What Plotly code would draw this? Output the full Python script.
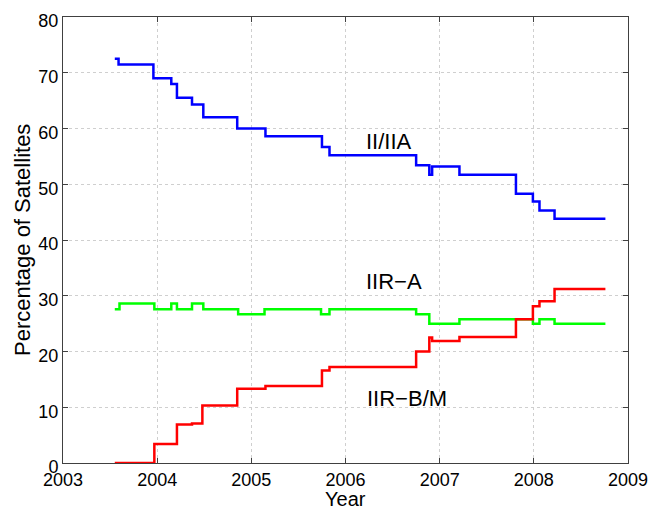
import plotly.graph_objects as go

# Constellation share by satellite block (step series, year vs percent)
years_ii = [2003.55, 2003.59, 2003.96, 2004.15, 2004.21, 2004.37, 2004.49, 2004.85,
            2005.15, 2005.75, 2005.83, 2006.75, 2006.89, 2006.92, 2007.21, 2007.81,
            2007.99, 2008.06, 2008.22, 2008.76]
pct_ii = [72.5, 71.5, 69.0, 68.0, 65.5, 64.3, 62.0, 60.0, 58.6, 56.7, 55.2, 53.4,
          51.7, 53.2, 51.7, 48.3, 46.9, 45.3, 43.8, 43.8]

years_iira = [2003.55, 2003.60, 2003.97, 2004.15, 2004.21, 2004.37, 2004.49, 2004.86,
              2005.14, 2005.74, 2005.83, 2006.75, 2006.89, 2007.21, 2007.99, 2008.06,
              2008.22, 2008.76]
pct_iira = [27.6, 28.6, 27.6, 28.6, 27.6, 28.6, 27.6, 26.7, 27.6, 26.7, 27.6, 26.7,
            25.0, 25.8, 25.0, 25.8, 25.0, 25.0]

years_iirb = [2003.55, 2003.97, 2004.21, 2004.37, 2004.48, 2004.85, 2005.15, 2005.75,
              2005.83, 2006.75, 2006.89, 2006.92, 2007.21, 2007.81, 2007.99, 2008.06,
              2008.22, 2008.76]
pct_iirb = [0.0, 3.4, 6.9, 7.1, 10.3, 13.3, 13.8, 16.6, 17.2, 20.0, 22.5, 21.9, 22.6,
            25.8, 28.1, 29.0, 31.2, 31.2]

x_ticks = [2003, 2004, 2005, 2006, 2007, 2008, 2009]
y_ticks = [0, 10, 20, 30, 40, 50, 60, 70, 80]

# Series labels placed inside the axes
label_text = ["II/IIA", "IIR\u2212A", "IIR\u2212B/M"]
label_x = [2006.46, 2006.52, 2006.65]
label_y = [57.7, 32.6, 11.5]

FONT = "Liberation Sans, Arial, sans-serif"

series = [
    (years_ii, pct_ii, "#0000ff"),
    (years_iira, pct_iira, "#00ff00"),
    (years_iirb, pct_iirb, "#ff0000"),
]

fig = go.Figure()
for xs, ys, color in series:
    fig.add_trace(go.Scatter(
        x=xs, y=ys, mode="lines", line=dict(color=color, width=2.5, shape="hv"),
        showlegend=False, hoverinfo="skip"))

for t, x, y in zip(label_text, label_x, label_y):
    fig.add_annotation(x=x, y=y, text=t, showarrow=False,
                       font=dict(family=FONT, size=22, color="black"))

# Axis titles, positioned relative to the plotting area
fig.add_annotation(text="Year", xref="paper", yref="paper", x=0.5, y=0,
                   xanchor="center", yanchor="top", yshift=-24, showarrow=False,
                   borderpad=0,
                   font=dict(family=FONT, size=20, color="black"))
fig.add_annotation(text="Percentage of Satellites", xref="paper", yref="paper",
                   x=0, y=0.5, xanchor="center", yanchor="middle", xshift=-41,
                   textangle=-90, showarrow=False,
                   font=dict(family=FONT, size=22, color="black"))

axis_common = dict(
    showline=True, linecolor="#404040", linewidth=1, mirror="ticks",
    ticks="inside", ticklen=5, tickcolor="#404040",
    showgrid=True, gridcolor="#cfcfcf", griddash="dot", gridwidth=1,
    zeroline=False, automargin=False,
)

fig.update_xaxes(range=[2003, 2009], tickvals=x_ticks, ticktext=[str(v) for v in x_ticks],
                 tickfont=dict(family=FONT, size=18, color="black"),
                 **axis_common)
fig.update_yaxes(range=[0, 80], tickvals=y_ticks, ticktext=[str(v) for v in y_ticks],
                 tickfont=dict(family=FONT, size=18, color="black"), ticklabelshift=4,
                 **axis_common)

fig.update_layout(
    width=652, height=510,
    margin=dict(l=63, r=24, t=17, b=47),
    paper_bgcolor="white", plot_bgcolor="white",
)

fig.write_html("out.html")
